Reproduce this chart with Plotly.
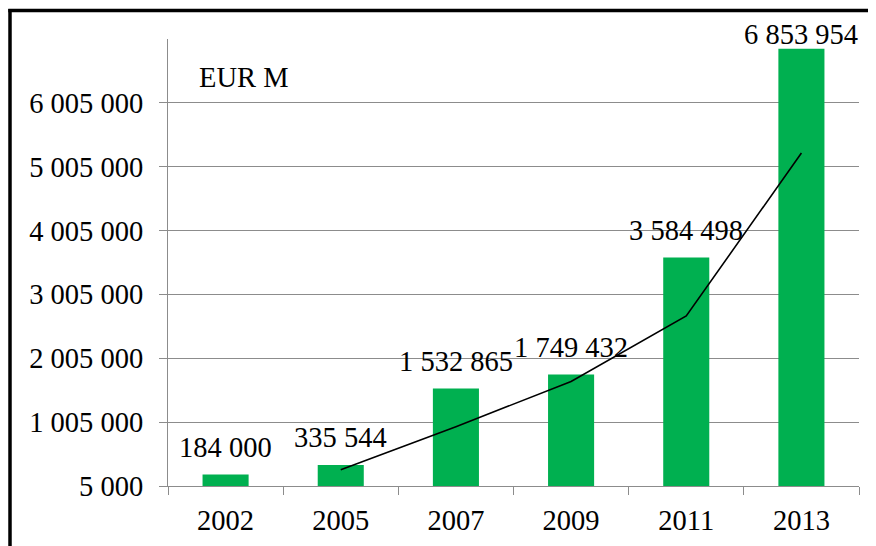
import plotly.graph_objects as go

years = ["2002", "2005", "2007", "2009", "2011", "2013"]
values = [184000, 335544, 1532865, 1749432, 3584498, 6853954]
labels = ["184 000", "335 544", "1 532 865", "1 749 432", "3 584 498", "6 853 954"]
trend_years = ["2005", "2007", "2009", "2011", "2013"]
trend_values = [259772, 934205, 1641149, 2666965, 5219226]
ytick_vals = [5000, 1005000, 2005000, 3005000, 4005000, 5005000, 6005000]
ytick_text = ["5 000", "1 005 000", "2 005 000", "3 005 000", "4 005 000", "5 005 000", "6 005 000"]
unit_label = "EUR M"

FONT = "Liberation Serif"
FS = 28.5
OFF = 8  # page body margin offset
W, H = 876 - OFF, 546 - OFF
ML, MT = 168 - OFF, 39 - OFF
PR, PB = 859 - OFF, 486 - OFF
MR, MB = W - PR, H - PB
PW, PH = PR - ML, PB - MT

fig = go.Figure()
fig.add_trace(go.Bar(x=years, y=values, marker=dict(color="#00B050", line=dict(width=0)),
                     width=0.4, showlegend=False, hoverinfo="x+y"))
fig.add_trace(go.Scatter(x=trend_years, y=trend_values, mode="lines",
                         line=dict(color="black", width=1.6), showlegend=False))

ann = []
for i, (v, t) in enumerate(zip(values, labels)):
    shift = 14 if i == len(values) - 1 else 27
    ann.append(dict(x=i, y=v, xref="x", yref="y", text=t, showarrow=False, yanchor="middle",
                    yshift=shift, font=dict(family=FONT, size=FS, color="black")))
ann.append(dict(x=0.042, y=0.913, xref="paper", yref="paper", text=unit_label,
                showarrow=False, xanchor="left", yanchor="middle",
                font=dict(family=FONT, size=FS, color="black")))

def px_x(p):
    return (p - OFF - ML) / PW

def px_y(p):
    return (PB - (p - OFF)) / PH

shapes = [
    dict(type="line", xref="paper", yref="paper", x0=px_x(10), x1=px_x(10),
         y0=px_y(9), y1=px_y(560), line=dict(color="black", width=3.5)),
    dict(type="line", xref="paper", yref="paper", x0=px_x(8.3), x1=px_x(890),
         y0=px_y(10.5), y1=px_y(10.5), line=dict(color="black", width=3.5)),
]

fig.update_layout(
    width=W, height=H,
    margin=dict(l=ML, r=MR, t=MT, b=MB, pad=0, autoexpand=False),
    paper_bgcolor="white", plot_bgcolor="white",
    font=dict(family=FONT, size=FS, color="black"),
    bargap=0.6,
    annotations=ann,
    shapes=shapes,
    xaxis=dict(type="category", categoryorder="array", categoryarray=years,
               range=[-0.5, len(years) - 0.5], autorange=False, automargin=False,
               tickson="boundaries", ticks="outside", ticklen=8,
               tickcolor="#8c8c8c", tickwidth=1.3, showline=True, linecolor="#8c8c8c",
               linewidth=1.3, showgrid=False,
               tickfont=dict(family=FONT, size=FS, color="black"),
               tickangle=0, ticklabelstandoff=9),
    yaxis=dict(range=[5000, 7005000], autorange=False, automargin=False,
               tickvals=ytick_vals, ticktext=ytick_text,
               ticks="outside", ticklen=8, tickcolor="#8c8c8c", tickwidth=1.3,
               showline=True, linecolor="#8c8c8c", linewidth=1.3,
               showgrid=True, gridcolor="#8c8c8c", gridwidth=1.3, zeroline=False,
               tickfont=dict(family=FONT, size=FS, color="black"), ticklabelstandoff=10),
)

fig.write_html("out.html")
